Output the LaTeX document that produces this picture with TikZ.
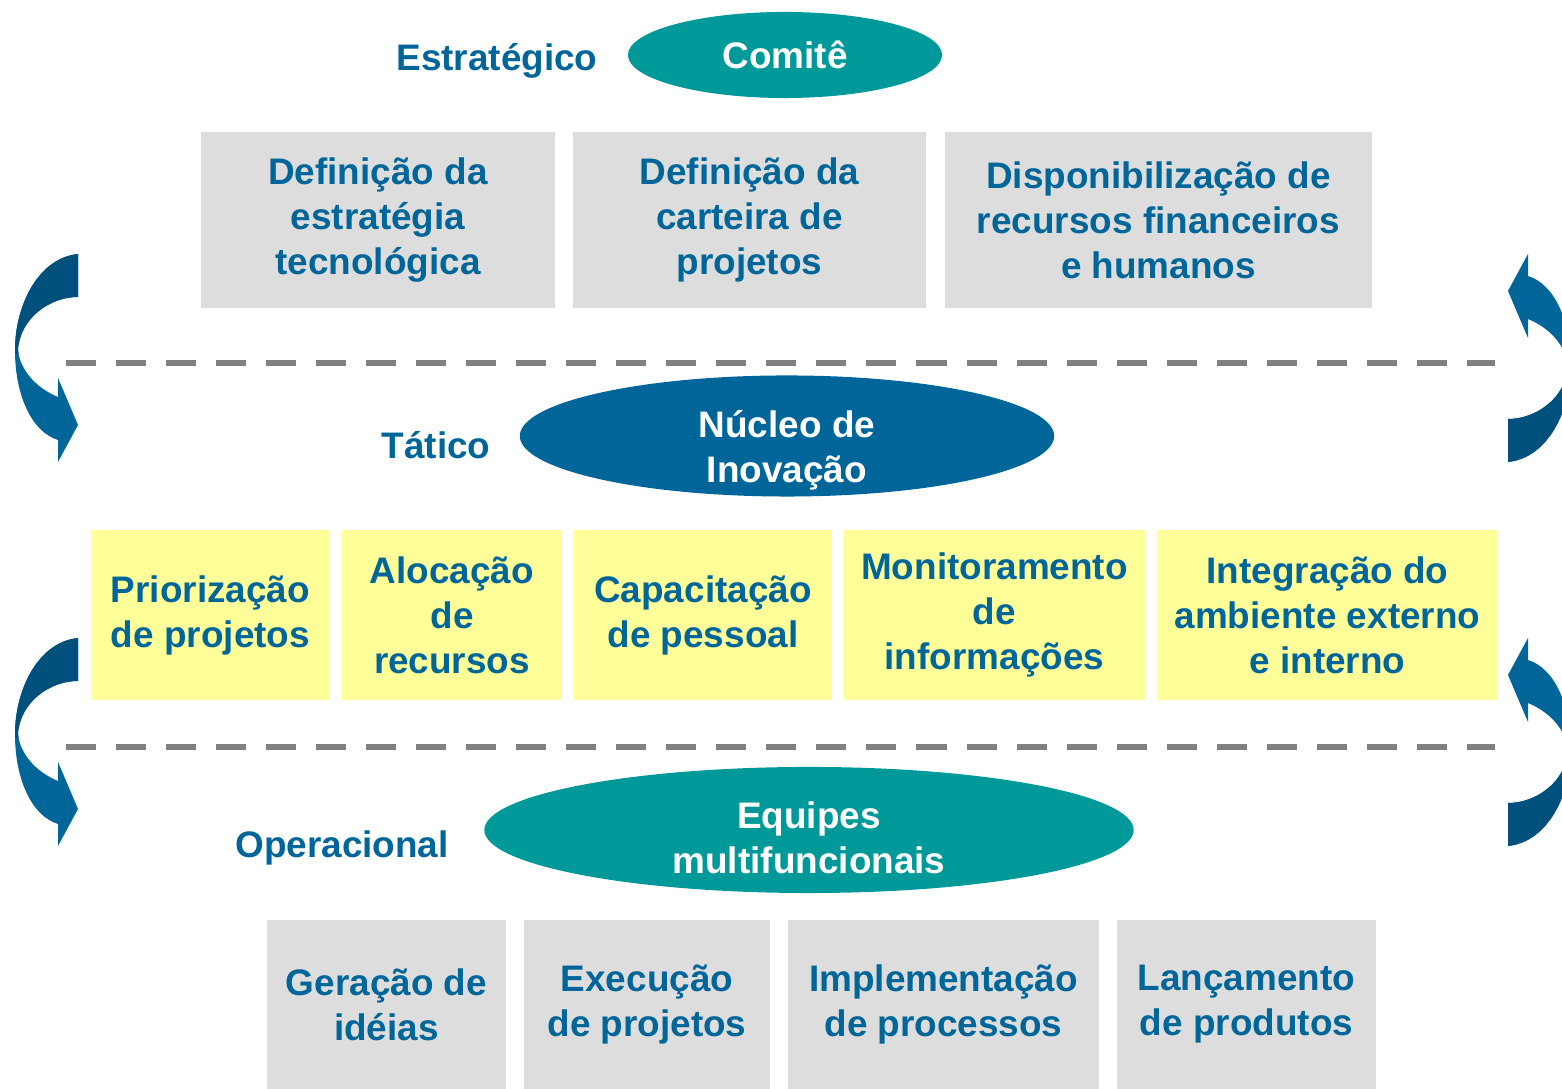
\documentclass[tikz,border=0pt]{standalone}
\usepackage{fontspec}
\setmainfont{Liberation Sans}
\usetikzlibrary{shapes.geometric}
\definecolor{txtblue}{RGB}{0,102,153}
\definecolor{darkblue}{RGB}{0,80,125}
\definecolor{tealfill}{RGB}{0,153,153}
\definecolor{boxgray}{RGB}{221,221,221}
\definecolor{boxyellow}{RGB}{255,255,153}
\definecolor{dashgray}{RGB}{128,128,128}
% outline of the curved arrow, local pixel units
\def\looppath{(32,-104) .. controls (-8,-100) and (-31,-52) .. (-31,-8)
  .. controls (-31,38) and (-14,74) .. (12,82) -- (12,104) -- (32,67) -- (12,20) -- (12,39)
  .. controls (-10,30) and (-26,12) .. (-28,-8)
  .. controls (-26,-40) and (4,-61) .. (32,-61) -- cycle}

\begin{document}
\begin{tikzpicture}[x=0.01cm, y=-0.01cm,
    every node/.style={font=\fontsize{10.5}{12.8}\selectfont\bfseries, text=txtblue, align=center, inner sep=0pt},
    topbox/.style={fill=boxgray, minimum height=1.76cm},
    midbox/.style={fill=boxyellow, minimum height=1.70cm},
    lowbox/.style={fill=boxgray, minimum height=1.69cm},
    level/.style={fill=tealfill, ellipse, text=white},
    loopArrow/.pic={
        \fill[txtblue] \looppath;
        \begin{scope}
            \clip (-40,-110) rectangle (40,-4);
            \fill[darkblue] \looppath;
        \end{scope}
    }]
    \useasboundingbox (0,0) rectangle (1562,1089);
    \clip (0,0) rectangle (1562,1089);

    \foreach \yy in {363,747} {
        \draw[dashgray, line width=0.06cm, dash pattern=on 0.3cm off 0.2cm] (66,\yy) -- (1495,\yy);
    }
    \foreach \dy in {0,384} {
        \pic at (46,358+\dy) {loopArrow};
        \pic[rotate=180] at (1540,358+\dy) {loopArrow};
    }

    % estrategico
    \node (estrat) at (497,61) {Estratégico};
    \node[level, minimum width=3.14cm, minimum height=0.86cm] (comite) at (785,55) {Comitê};
    \node[topbox, minimum width=3.54cm] (defEstr) at (378,220) {Definição da\\estratégia\\tecnológica};
    \node[topbox, minimum width=3.53cm] (defCart) at (749.5,220) {Definição da\\carteira de\\projetos};
    \node[topbox, minimum width=4.27cm] (dispRec) at (1158.5,220) {Disponibilização de\\recursos financeiros\\e humanos};

    % tatico
    \node (tatico) at (436,445) {Tático};
    \node[level, fill=txtblue, minimum width=5.34cm, minimum height=1.21cm] (nucleo) at (787,436) {};
    \node[text=white] (nucleoTxt) at (787,450) {Núcleo de\\Inovação};
    \node[midbox, minimum width=2.39cm] (prior) at (210.5,615) {Priorização\\de projetos};
    \node[midbox, minimum width=2.20cm] (aloc) at (452,615) {Alocação\\de\\recursos};
    \node[midbox, minimum width=2.58cm] (capac) at (703,615) {Capacitação\\de pessoal};
    \node[midbox, minimum width=3.01cm] (monit) at (994.5,615) {Monitoramento\\de\\informações};
    \node[midbox, minimum width=3.41cm] (integ) at (1327.5,615) {Integração do\\ambiente externo\\e interno};

    % operacional
    \node (operac) at (342,848) {Operacional};
    \node[level, minimum width=6.49cm, minimum height=1.26cm] (equipes) at (809,830) {};
    \node[text=white] (equipesTxt) at (809,838) {Equipes\\multifuncionais};
    \node[lowbox, minimum width=2.39cm] (geracao) at (386.5,1004.5) {Geração de\\idéias};
    \node[lowbox, minimum width=2.46cm] (execucao) at (647,1004.5) {Execução\\de projetos};
    \node[lowbox, minimum width=3.11cm] (implem) at (943.5,1004.5) {Implementação\\de processos};
    \node[lowbox, minimum width=2.59cm] (lancam) at (1246.5,1004.5) {Lançamento\\de produtos};
\end{tikzpicture}
\end{document}
